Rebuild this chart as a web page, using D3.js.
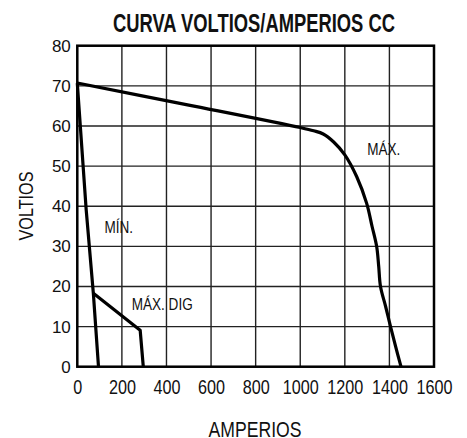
<!DOCTYPE html>
<html lang="es">
<head>
<meta charset="UTF-8">
<title>Curva voltios/amperios CC</title>
<script src="https://d3js.org/d3.v7.min.js"></script>
<style>
    body, html {
        margin: 0;
        background: #ffffff;
    }
    svg text {
        font-family: "Liberation Sans", Arial, sans-serif;
        fill: #111;
    }
</style>
</head>
<body>
<svg id="chart" width="467" height="438"></svg>
<script>
    // ticks
    const xTicks = [0, 200, 400, 600, 800, 1000, 1200, 1400, 1600];
    const yTicks = [0, 10, 20, 30, 40, 50, 60, 70, 80];

    // curves: [amperios, voltios]
    const maxCurve = [[0, 70.7], [500, 65.2], [1000, 59.6], [1060, 58.8], [1103, 58], [1150, 56],
        [1200, 52.8], [1253, 47.4], [1298, 40.7], [1322, 35], [1343, 29.9], [1352, 25], [1360, 20],
        [1383, 15], [1405, 10], [1428, 5], [1452, 0]];
    const minCurve = [[0, 70.7], [40, 39], [72, 18.3], [95, 0]];
    const maxDigCurve = [[72, 18.3], [282, 9.1], [296, 0]];

    const labels = [
        { text: "MÁX.", a: 1375, v: 52.8 },
        { text: "MÍN.", a: 186, v: 33.3 },
        { text: "MÁX. DIG", a: 381, v: 14.1 }
    ];

    const svg = d3.select("#chart");
    const plotLeft = 77.3, plotRight = 434, plotTop = 45.7, plotBottom = 366.7;

    const x = d3.scaleLinear().domain([0, 1600]).range([plotLeft, plotRight]);
    const y = d3.scaleLinear().domain([0, 80]).range([plotBottom, plotTop]);

    // squeeze text horizontally (the original uses a condensed face)
    function condense(sel, k) {
        sel.each(function () {
            const w = this.getComputedTextLength();
            d3.select(this).attr("textLength", w * k).attr("lengthAdjust", "spacingAndGlyphs");
        });
    }

    // grid
    svg.append("g")
        .selectAll("line")
        .data(xTicks)
        .enter().append("line")
        .attr("x1", d => x(d)).attr("x2", d => x(d))
        .attr("y1", plotTop).attr("y2", plotBottom)
        .attr("stroke", "#222").attr("stroke-width", 1.4);

    svg.append("g")
        .selectAll("line")
        .data(yTicks)
        .enter().append("line")
        .attr("x1", plotLeft).attr("x2", plotRight)
        .attr("y1", d => y(d)).attr("y2", d => y(d))
        .attr("stroke", "#222").attr("stroke-width", 1.4);

    // frame
    svg.append("rect")
        .attr("x", plotLeft).attr("y", plotTop)
        .attr("width", plotRight - plotLeft).attr("height", plotBottom - plotTop)
        .attr("fill", "none").attr("stroke", "#000").attr("stroke-width", 2.5);

    // tick labels
    const xAxis = svg.append("g")
        .attr("transform", `translate(0, ${plotBottom})`)
        .call(d3.axisBottom(x).tickValues(xTicks).tickFormat(d3.format("d")).tickSize(0).tickPadding(13.5));
    xAxis.select(".domain").remove();
    xAxis.selectAll("text")
        .attr("fill", "#111")
        .style("font-family", "'Liberation Sans', Arial, sans-serif")
        .style("font-size", "19.5px")
        .call(condense, 0.83);

    const yAxis = svg.append("g")
        .attr("transform", `translate(${plotLeft}, 0)`)
        .call(d3.axisLeft(y).tickValues(yTicks).tickFormat(d3.format("d")).tickSize(0).tickPadding(6.5));
    yAxis.select(".domain").remove();
    yAxis.selectAll("text")
        .attr("fill", "#111")
        .style("font-family", "'Liberation Sans', Arial, sans-serif")
        .style("font-size", "17px");

    // curves
    const smooth = d3.line()
        .x(d => x(d[0]))
        .y(d => y(d[1]))
        .curve(d3.curveCatmullRom.alpha(0.5));

    const straight = d3.line().x(d => x(d[0])).y(d => y(d[1]));

    svg.append("path")
        .datum(maxCurve)
        .attr("d", smooth)
        .attr("fill", "none").attr("stroke", "#000").attr("stroke-width", 3.2);

    svg.append("path")
        .datum(minCurve)
        .attr("d", straight)
        .attr("fill", "none").attr("stroke", "#000").attr("stroke-width", 3.2)
        .attr("stroke-linejoin", "round");

    svg.append("path")
        .datum(maxDigCurve)
        .attr("d", straight)
        .attr("fill", "none").attr("stroke", "#000").attr("stroke-width", 3.2)
        .attr("stroke-linejoin", "round");

    // curve labels
    svg.selectAll(".curve-label")
        .data(labels)
        .enter().append("text")
        .attr("class", "curve-label")
        .attr("x", d => x(d.a))
        .attr("y", d => y(d.v))
        .attr("text-anchor", "middle")
        .style("font-size", "16.5px")
        .text(d => d.text)
        .call(condense, 0.82);

    // title
    svg.append("text")
        .attr("x", 254)
        .attr("y", 31.5)
        .attr("text-anchor", "middle")
        .attr("textLength", 282)
        .attr("lengthAdjust", "spacingAndGlyphs")
        .style("font-size", "25px")
        .style("font-weight", "bold")
        .text("CURVA VOLTIOS/AMPERIOS CC");

    // axis titles
    svg.append("text")
        .attr("x", 255)
        .attr("y", 436.5)
        .attr("text-anchor", "middle")
        .attr("textLength", 93)
        .attr("lengthAdjust", "spacingAndGlyphs")
        .style("font-size", "21.5px")
        .text("AMPERIOS");

    svg.append("text")
        .attr("transform", "translate(33, 206) rotate(-90)")
        .attr("text-anchor", "middle")
        .attr("textLength", 69)
        .attr("lengthAdjust", "spacingAndGlyphs")
        .style("font-size", "21px")
        .text("VOLTIOS");
</script>
</body>
</html>
